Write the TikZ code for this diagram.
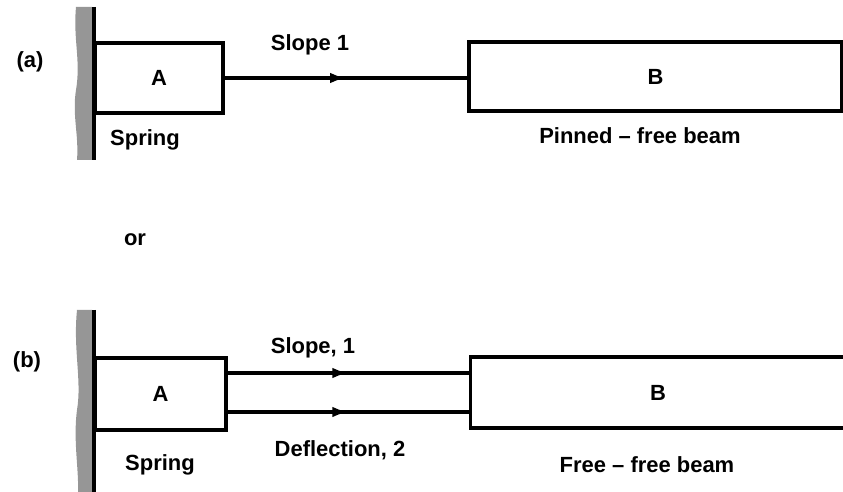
\documentclass[tikz,border=0pt]{standalone}
\usepackage{fontspec}
\setmainfont{Liberation Sans}
\usetikzlibrary{arrows.meta,decorations.markings}
\definecolor{wallgray}{RGB}{150,150,150}

\begin{document}
\begin{tikzpicture}[x=0.02cm,y=-0.02cm,font=\fontsize{12.5}{14}\selectfont\bfseries,>=Latex,
 box/.style={draw,line width=2pt,inner sep=0pt},
 lbl/.style={inner sep=0pt},
 wallline/.style={line width=2pt},
 wallfill/.style={fill=wallgray,draw=none},
 conn/.style={line width=2pt,postaction={decorate},
  decoration={markings,mark=at position .5 with {\arrow{Latex[length=9pt,width=6pt]}}}}]
\useasboundingbox (0,0) rectangle (843,492);

% (a) spring joined to a pinned-free beam by the slope only
\fill[wallfill] (92,7) -- (76,7) .. controls (73,40) and (81,60) .. (76,90)
 .. controls (72,115) and (79,135) .. (77,160) -- (92,160) -- cycle;
\node[box,minimum width=2.56cm,minimum height=1.4cm] (springa) at (159,78) {A};
\node[box,minimum width=7.46cm,minimum height=1.38cm] (beama) at (655.5,76.5) {B};
\draw[wallline] (94,7) coordinate (walla top) -- (94,160) coordinate (walla bot);
\draw[conn,line width=2pt] (springa.east) -- (springa.east -| beama.west);
\node[lbl] (taga) at (30,62) {(a)};
\node[lbl] (slopea) at (310,45) {Slope 1};
\node[lbl] (springlbla) at (145,140) {Spring};
\node[lbl] (beamlbla) at (640,136) {Pinned -- free beam};

\node[lbl] (ornode) at (135,240) {or};

% (b) spring joined to a free-free beam by slope and deflection
\fill[wallfill] (92,310) -- (77,310) .. controls (73,350) and (82,380) .. (77,410)
 .. controls (73,440) and (79,470) .. (78,492) -- (92,492) -- cycle;
\node[box,minimum width=2.62cm,minimum height=1.44cm] (springb) at (160.5,394) {A};
\node[box,minimum width=7.5cm,minimum height=1.42cm] (beamb) at (658,392.5) {B};
\draw[wallline] (94,310) coordinate (wallb top) -- (94,492) coordinate (wallb bot);
\draw[conn,line width=2pt] ([yshift=0.42cm]springb.east) -- ([yshift=0.42cm]springb.east -| beamb.west);
\draw[conn,line width=2pt] ([yshift=-0.36cm]springb.east) -- ([yshift=-0.36cm]springb.east -| beamb.west);
\node[lbl] (tagb) at (27,362) {(b)};
\node[lbl] (slopeb) at (313,348) {Slope, 1};
\node[lbl] (deflb) at (340,450) {Deflection, 2};
\node[lbl] (springlblb) at (160,465) {Spring};
\node[lbl] (beamlblb) at (647,465) {Free -- free beam};
\end{tikzpicture}
\end{document}
